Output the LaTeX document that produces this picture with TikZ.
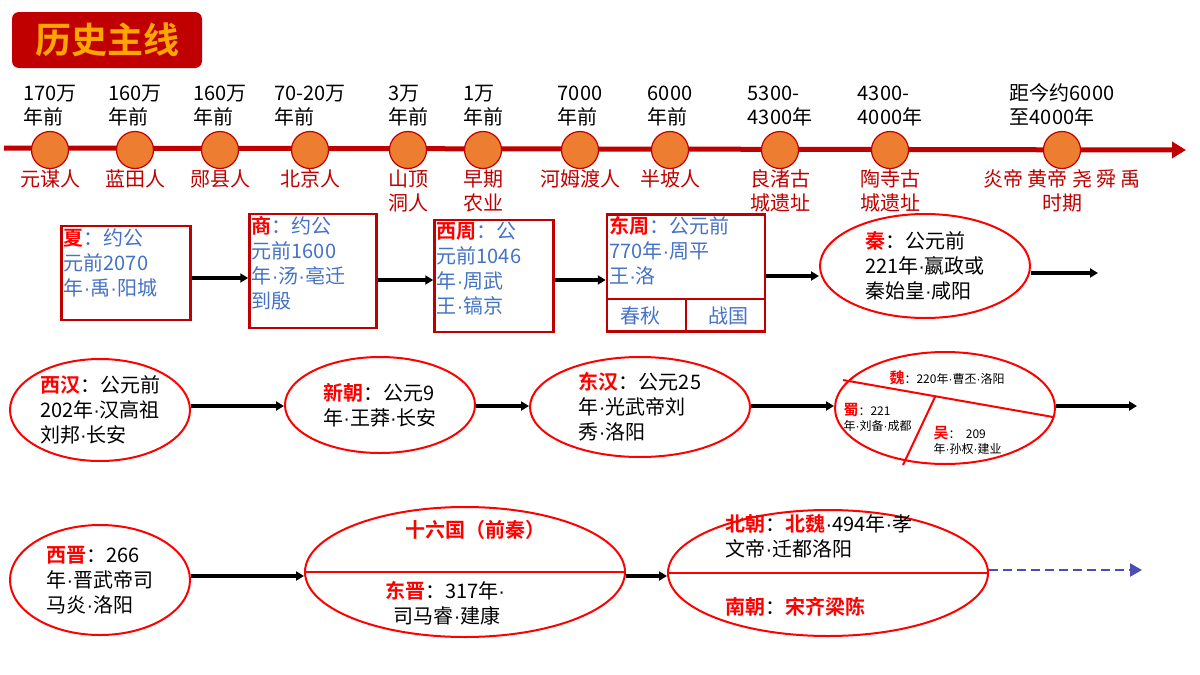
\documentclass[tikz,border=0pt]{standalone}
\usepackage{fontspec}
\setmainfont{Noto Sans CJK SC}[BoldFont={Noto Sans CJK SC Bold}]
\newfontfamily\latinf{Liberation Sans}
\usetikzlibrary{shapes.geometric,arrows.meta}
\definecolor{dred}{HTML}{C00000}
\definecolor{hred}{HTML}{FF0000}
\definecolor{dot}{HTML}{ED7D31}
\definecolor{tblue}{HTML}{4472C4}
\newcommand{\hl}[1]{\textcolor{hred}{\textbf{#1}}}
\newcommand{\p}{{\latinf\char"00B7}}
\begin{document}
\begin{tikzpicture}[x=1pt,y=-1pt,
    stop/.style={circle, draw=dred, fill=dot, line width=1.2pt, minimum size=37pt, inner sep=0pt},
    when/.style={font=\fontsize{20}{24}\selectfont, align=left, anchor=south},
    who/.style={font=\fontsize{20}{24}\selectfont, text=dred, align=center, anchor=north},
    box/.style={rectangle, draw=dred, line width=2.5pt, inner sep=0pt},
    era/.style={ellipse, draw=hred, line width=2pt, inner sep=0pt},
    txt/.style={font=\fontsize{20}{25}\selectfont, align=left},
    small/.style={font=\fontsize{12}{15}\selectfont, align=left},
    arrow/.style={-{Triangle[length=8pt,width=9pt]}, line width=4pt}
    ]
    \useasboundingbox (0,0) rectangle (1200,675);

    % Title
    \node[rectangle, rounded corners=7pt, fill=dred, minimum width=190pt, minimum height=56pt,
      font=\fontsize{36}{40}\selectfont\bfseries, text=orange!70!yellow] (title) at (107,40) {历史主线};

    % Timeline
    \coordinate (tstart) at (4,148);
    \coordinate (tend) at (1186,150);
    \draw[-{Triangle[length=14pt,width=16pt]}, dred, line width=5pt] (tstart) -- (tend);
    \foreach \x/\n/\t/\w in {50/a/{170万\\年前}/元谋人, 135/b/{160万\\年前}/蓝田人,
        220/c/{160万\\年前}/郧县人, 310/d/{70-20万\\年前}/北京人, 408/e/{3万\\年前}/{山顶\\洞人},
        483/f/{1万\\年前}/{早期\\农业}, 580/g/{7000\\年前}/河姆渡人, 670/h/{6000\\年前}/半坡人,
        780/i/{5300-\\4300年}/{良渚古\\城遗址}, 890/j/{4300-\\4000年}/{陶寺古\\城遗址},
        1062/k/{距今约6000\\至4000年}/{炎帝 黄帝 尧 舜 禹\\时期}} {
      \node[stop] (p\n) at (\x,150) {};
      \node[when] at (\x,130) {\t};
      \node[who] at (\x,166) {\w};
    }

    % Row 1
    \node[box, minimum width=129pt, minimum height=94pt] (xia) at (126,273) {};
    \node[txt, text=tblue, anchor=north west] at (xia.north west) {\hl{夏}：约公\\元前2070\\年\p 禹\p 阳城};
    \node[box, minimum width=127pt, minimum height=114pt] (shang) at (313,271) {};
    \node[txt, text=tblue, anchor=north west] at (shang.north west) {\hl{商}：约公\\元前1600\\年\p 汤\p 亳迁\\到殷};
    \node[box, minimum width=119pt, minimum height=112pt] (xizhou) at (494,276) {};
    \node[txt, text=tblue, anchor=north west] at (xizhou.north west) {\hl{西周}：公\\元前1046\\年\p 周武\\王\p 镐京};
    \node[box, minimum width=158pt, minimum height=117pt] (dongzhou) at (686,273) {};
    \node[txt, text=tblue, anchor=north west] at (dongzhou.north west) {\hl{东周}：公元前\\770年\p 周平\\王\p 洛};
    \draw[dred, line width=2.5pt] (607,299) -- (765,299) (686,299) -- (686,332);
    \node[txt, text=tblue] (chunqiu) at (640,316) {春秋};
    \node[txt, text=tblue] (zhanguo) at (728,316) {战国};
    \node[era, minimum width=210pt, minimum height=104pt] (qin) at (925,266) {};
    \node[txt] at (qin) {\hl{秦}：公元前\\221年\p 嬴政或\\秦始皇\p 咸阳};
    \coordinate (qout) at (1098,273);
    \draw[arrow] (xia.east |- 0,278) -- (shang.west |- 0,278);
    \draw[arrow] (shang.east |- 0,280) -- (xizhou.west |- 0,280);
    \draw[arrow] (xizhou.east |- 0,280) -- (dongzhou.west |- 0,280);
    \draw[arrow] (dongzhou.east |- 0,276) -- (qin.west |- 0,276);
    \draw[arrow] (qin.east |- qout) -- (qout);

    % Row 2
    \node[era, minimum width=180pt, minimum height=102pt] (xihan) at (100,410) {};
    \node[txt] at (xihan) {\hl{西汉}：公元前\\202年\p 汉高祖\\刘邦\p 长安};
    \node[era, minimum width=190pt, minimum height=96pt] (xinchao) at (380,405) {};
    \node[txt] at (xinchao) {\hl{新朝}：公元9\\年\p 王莽\p 长安};
    \node[era, minimum width=220pt, minimum height=100pt] (donghan) at (640,407) {};
    \node[txt] at (donghan) {\hl{东汉}：公元25\\年\p 光武帝刘\\秀\p 洛阳};
    \node[era, minimum width=220pt, minimum height=112pt] (sanguo) at (945,408) {};
    \draw[hred, line width=2pt] (843,380) -- (1053,417) (935,397) -- (903,465);
    \node[small, anchor=west] (wei) at (886,378) {\hl{\fontsize{15}{18}\selectfont 魏}：220年\p 曹丕\p 洛阳};
    \node[small, anchor=west] (shu) at (840,417) {\hl{\fontsize{15}{18}\selectfont 蜀}：221\\年\p 刘备\p 成都};
    \node[small, anchor=west] (wu) at (930,440) {\hl{\fontsize{15}{18}\selectfont 吴}：\ \ 209\\年\p 孙权\p 建业};
    \coordinate (sout) at (1137,406);
    \draw[arrow] (xihan.east |- 0,406) -- (xinchao.west |- 0,406);
    \draw[arrow] (xinchao.east |- 0,406) -- (donghan.west |- 0,406);
    \draw[arrow] (donghan.east |- 0,406) -- (sanguo.west |- 0,406);
    \draw[arrow] (sanguo.east |- sout) -- (sout);

    % Row 3
    \node[era, minimum width=180pt, minimum height=110pt] (xijin) at (100,580) {};
    \node[txt] at (xijin) {\hl{西晋}：266\\年\p 晋武帝司\\马炎\p 洛阳};
    \node[era, minimum width=320pt, minimum height=130pt] (dongjin) at (465,572) {};
    \draw[hred, line width=2pt] (dongjin.west) -- (dongjin.east);
    \node[txt] (shiliu) at (475,530) {\hl{十六国（前秦）}};
    \node[txt] at (445,603) {\hl{东晋}：317年\p\\\ \ 司马睿\p 建康};
    \node[era, minimum width=320pt, minimum height=126pt] (nanbei) at (828,573) {};
    \draw[hred, line width=2pt] (nanbei.west) -- (nanbei.east);
    \node[txt, anchor=north west] (beichao) at (722,511) {\hl{北朝}：\hl{北魏}\p 494年\p 孝\\文帝\p 迁都洛阳};
    \node[txt, anchor=west] (nanchao) at (722,607) {\hl{南朝}：\hl{宋齐梁陈}};
    \coordinate (nout) at (1142,570);
    \draw[arrow] (xijin.east |- 0,576) -- (dongjin.west |- 0,576);
    \draw[arrow] (dongjin.east |- 0,576) -- (nanbei.west |- 0,576);
    \draw[-{Triangle[length=12pt,width=13pt]}, line width=2.5pt, dash pattern=on 9pt off 5pt, gray!60!blue] (nanbei.east |- nout) -- (nout);
\end{tikzpicture}
\end{document}
